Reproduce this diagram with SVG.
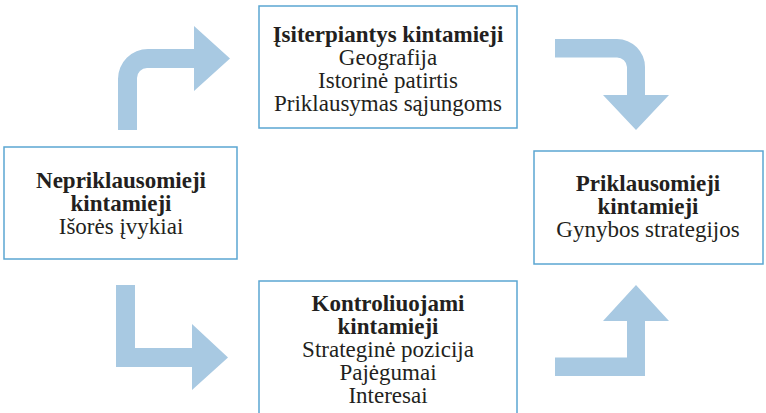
<svg xmlns="http://www.w3.org/2000/svg" width="766" height="413" viewBox="0 0 766 413">
<style>
.box{fill:#fff;stroke:#5ba6d2;stroke-width:1.5}
.arr{fill:#a8c9e2}
text{font-family:"Liberation Serif","Times New Roman",serif;font-size:23px;fill:#231f20;text-anchor:middle}
.b{font-weight:bold}
</style>
<rect width="766" height="413" fill="#fff"/>
<g id="connectors">
<path class="arr" d="M118,130 V79 A30,30 0 0 1 148,49 H194 V26 L230,58.5 L194,91 V68 H147 A10,10 0 0 0 137,78 V130 Z"/>
<path class="arr" d="M555,39 H617 A28,28 0 0 1 645,67 V95 H669 L636,130 L603,95 H627 V67 A10,10 0 0 0 617,57.5 H555 Z"/>
<path class="arr" d="M116,285 H135 V348 H192 V324 L228,357.5 L192,390 V367 H116 Z"/>
<path class="arr" d="M555,376 H645 V321 H669 L636,285 L603,321 H627 V357.5 H555 Z"/>
</g>
<g id="node-top">
<rect class="box" x="259" y="6" width="258" height="122"/>
<text x="388" y="42" class="b">Įsiterpiantys kintamieji</text>
<text x="388" y="65">Geografija</text>
<text x="388" y="88">Istorinė patirtis</text>
<text x="388" y="111">Priklausymas sąjungoms</text>
</g>
<g id="node-left">
<rect class="box" x="4" y="147" width="233" height="112"/>
<text x="121" y="188" class="b">Nepriklausomieji</text>
<text x="121" y="211" class="b">kintamieji</text>
<text x="121" y="234">Išorės įvykiai</text>
</g>
<g id="node-right">
<rect class="box" x="534" y="151" width="229" height="113"/>
<text x="648" y="191" class="b">Priklausomieji</text>
<text x="648" y="214" class="b">kintamieji</text>
<text x="648" y="237">Gynybos strategijos</text>
</g>
<g id="node-bottom">
<rect class="box" x="259" y="281" width="258" height="140"/>
<text x="388" y="311" class="b">Kontroliuojami</text>
<text x="388" y="334" class="b">kintamieji</text>
<text x="388" y="357">Strateginė pozicija</text>
<text x="388" y="380">Pajėgumai</text>
<text x="388" y="403">Interesai</text>
</g>
</svg>
